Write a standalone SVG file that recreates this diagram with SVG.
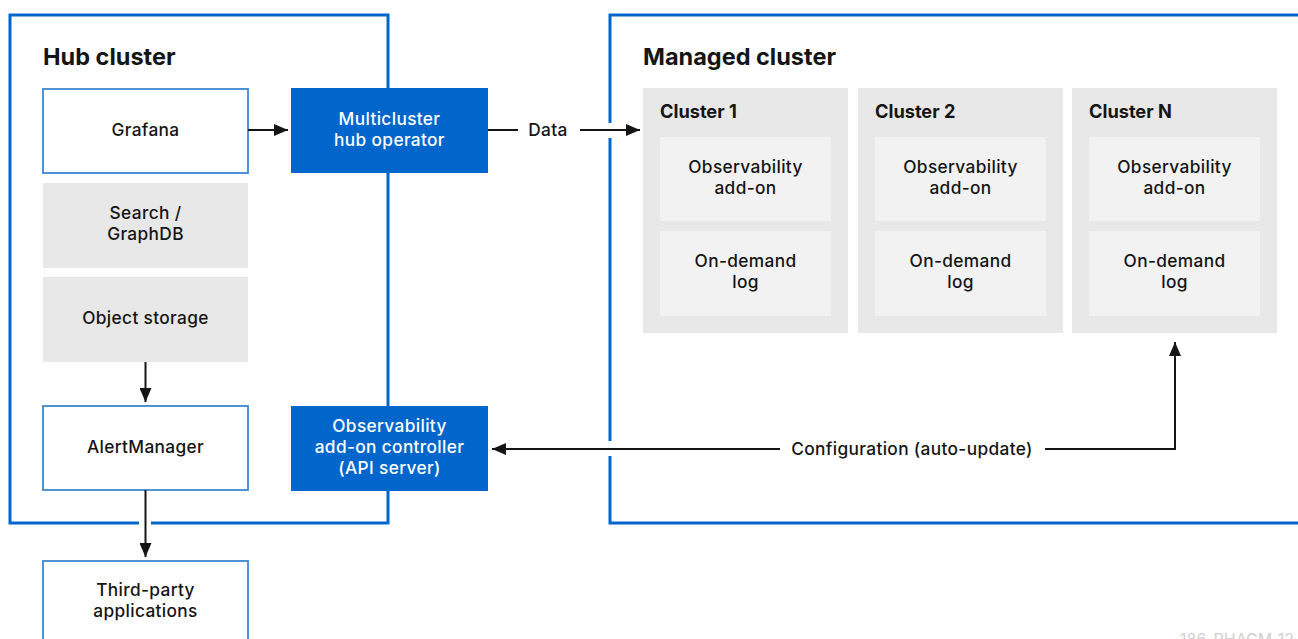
<svg xmlns="http://www.w3.org/2000/svg" width="1298" height="639" viewBox="0 0 1298 639">
<defs>
<marker id="ah" viewBox="0 0 14 12" refX="14" refY="6" markerWidth="14" markerHeight="12" markerUnits="userSpaceOnUse" orient="auto">
<path d="M0,0 L14,6 L0,12 Z" fill="#151515"/>
</marker>
<style>
text{font-family:Inter,"Open Sans","Liberation Sans",sans-serif;fill:#151515;text-anchor:middle}
.title{font-size:23.5px;font-weight:700;text-anchor:start}
.ctitle{font-size:18.2px;font-weight:700;text-anchor:start}
.lbl{font-size:17.3px;font-weight:500;letter-spacing:0.35px}
.wlbl{font-size:17.3px;font-weight:500;letter-spacing:0.35px;fill:#ffffff}
.frame{fill:none;stroke:#0066cc;stroke-width:3}
.wbox{fill:#ffffff;stroke:#3d86d6;stroke-width:1.8}
.gbox{fill:#e8e8e8}
.lbox{fill:#f2f2f2}
.bbox{fill:#0066cc}
.gap{stroke:#ffffff;stroke-width:6}
.conn{fill:none;stroke:#151515;stroke-width:2}
</style>
</defs>
<rect width="1298" height="639" fill="#ffffff"/>

<g id="hub-cluster">
<rect class="frame" x="10" y="15" width="378" height="508"/>
<line class="gap" x1="139" y1="523" x2="151" y2="523"/>
<text class="title" x="43" y="65">Hub cluster</text>
</g>

<g id="managed-cluster">
<path class="frame" d="M1300,15 L610,15 L610,523 L1300,523"/>
<line class="gap" x1="610" y1="123" x2="610" y2="138"/>
<line class="gap" x1="610" y1="441" x2="610" y2="456"/>
<text class="title" x="643" y="65">Managed cluster</text>
</g>

<g id="grafana">
<rect class="wbox" x="43" y="89" width="205" height="84"/>
<text class="lbl" x="145.5" y="136">Grafana</text>
</g>
<g id="search-graphdb">
<rect class="gbox" x="43" y="183" width="205" height="85"/>
<text class="lbl" x="145.5" y="219">Search /<tspan x="145.5" dy="21">GraphDB</tspan></text>
</g>
<g id="object-storage">
<rect class="gbox" x="43" y="277" width="205" height="85"/>
<text class="lbl" x="145.5" y="324">Object storage</text>
</g>
<g id="alertmanager">
<rect class="wbox" x="43" y="406" width="205" height="84"/>
<text class="lbl" x="145.5" y="453">AlertManager</text>
</g>
<g id="third-party">
<rect class="wbox" x="43" y="561" width="205" height="90"/>
<text class="lbl" x="145.5" y="596">Third-party<tspan x="145.5" dy="21">applications</tspan></text>
</g>
<g id="multicluster-hub-operator">
<rect class="bbox" x="291" y="88" width="197" height="85"/>
<text class="wlbl" x="389.5" y="125">Multicluster<tspan x="389.5" dy="21">hub operator</tspan></text>
</g>
<g id="observability-controller">
<rect class="bbox" x="291" y="406" width="197" height="85"/>
<text class="wlbl" x="389.5" y="432">Observability<tspan x="389.5" dy="21">add-on controller</tspan><tspan x="389.5" dy="21">(API server)</tspan></text>
</g>

<g id="cluster-1">
<rect class="gbox" x="643" y="88" width="205" height="245"/>
<text class="ctitle" x="660" y="118">Cluster 1</text>
<rect class="lbox" x="660" y="137" width="171" height="84"/>
<text class="lbl" x="745.5" y="173">Observability<tspan x="745.5" dy="21">add-on</tspan></text>
<rect class="lbox" x="660" y="231" width="171" height="85"/>
<text class="lbl" x="745.5" y="267">On-demand<tspan x="745.5" dy="21">log</tspan></text>
</g>
<g id="cluster-2">
<rect class="gbox" x="858" y="88" width="205" height="245"/>
<text class="ctitle" x="875" y="118">Cluster 2</text>
<rect class="lbox" x="875" y="137" width="171" height="84"/>
<text class="lbl" x="960.5" y="173">Observability<tspan x="960.5" dy="21">add-on</tspan></text>
<rect class="lbox" x="875" y="231" width="171" height="85"/>
<text class="lbl" x="960.5" y="267">On-demand<tspan x="960.5" dy="21">log</tspan></text>
</g>
<g id="cluster-n">
<rect class="gbox" x="1072" y="88" width="205" height="245"/>
<text class="ctitle" x="1089" y="118">Cluster N</text>
<rect class="lbox" x="1089" y="137" width="171" height="84"/>
<text class="lbl" x="1174.5" y="173">Observability<tspan x="1174.5" dy="21">add-on</tspan></text>
<rect class="lbox" x="1089" y="231" width="171" height="85"/>
<text class="lbl" x="1174.5" y="267">On-demand<tspan x="1174.5" dy="21">log</tspan></text>
</g>

<g id="connectors">
<line class="conn" x1="248" y1="130" x2="288" y2="130" marker-end="url(#ah)"/>
<line class="conn" x1="488" y1="130" x2="518" y2="130"/>
<text class="lbl" x="548" y="136">Data</text>
<line class="conn" x1="580" y1="130" x2="640" y2="130" marker-end="url(#ah)"/>
<line class="conn" x1="145.5" y1="362" x2="145.5" y2="402" marker-end="url(#ah)"/>
<line class="conn" x1="145.5" y1="490" x2="145.5" y2="557" marker-end="url(#ah)"/>
<polyline class="conn" points="1045,449 1175,449 1175,342" marker-end="url(#ah)"/>
<text class="lbl" x="912" y="455">Configuration (auto-update)</text>
<line class="conn" x1="780" y1="449" x2="492" y2="449" marker-end="url(#ah)"/>
</g>

<text x="1180" y="645" style="font-size:16px;fill:#d0d0d0;text-anchor:start">186_RHACM_12</text>
</svg>
